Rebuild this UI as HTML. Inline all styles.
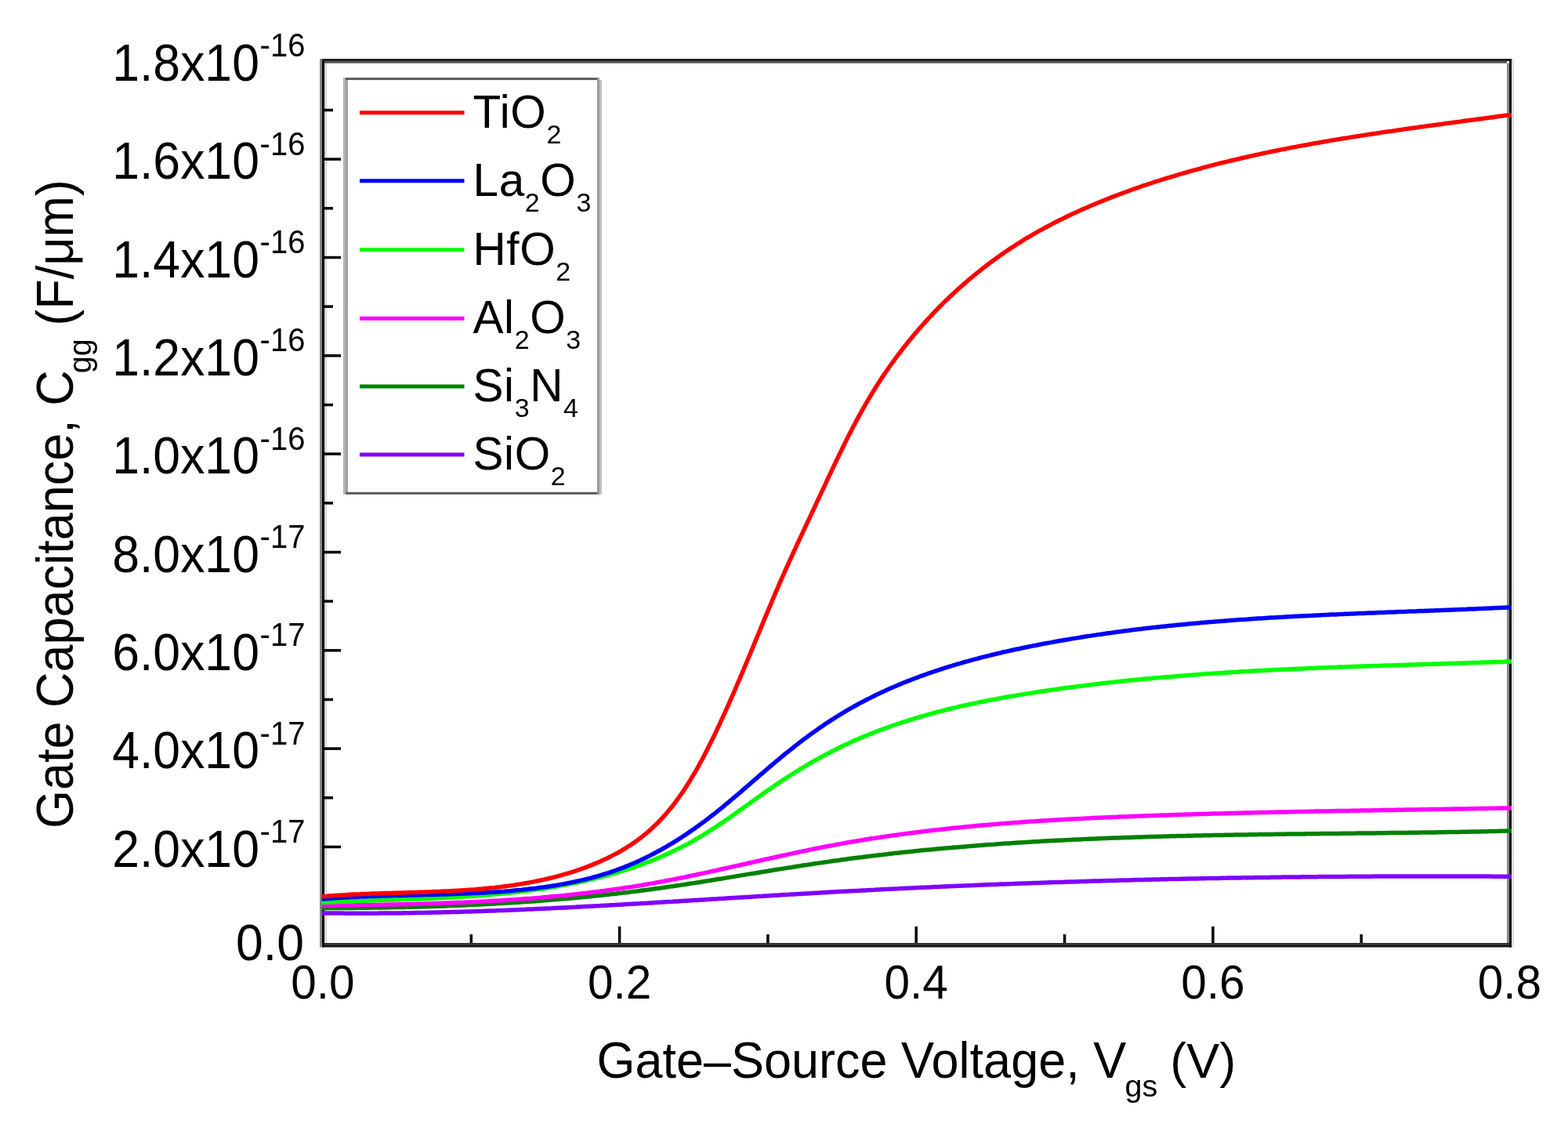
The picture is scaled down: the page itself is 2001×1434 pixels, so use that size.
<!DOCTYPE html>
<html><head><meta charset="utf-8"><title>Gate Capacitance vs Gate-Source Voltage</title>
<style>
html,body{margin:0;padding:0;background:#fff;}
body{width:2001px;height:1434px;overflow:hidden;}
svg{display:block;}
text{font-family:"Liberation Sans",Arial,sans-serif;fill:#000;}
.yl{font-size:62.5px;}
.ys{font-size:40px;}
.xl{font-size:58.5px;}
.xt{font-size:63px;}
.xs{font-size:39.5px;}
.lg{font-size:58.5px;letter-spacing:0.6px;}
.lgs{font-size:34px;}
</style></head><body>
<svg width="2001" height="1434" viewBox="0 0 2001 1434">
<rect x="0" y="0" width="2001" height="1434" fill="#fff"/>
<g fill="none">
<rect x="408" y="75" width="3" height="1133.5" fill="#888"/>
<rect x="411" y="75" width="3" height="1133.5" fill="#000"/>
<rect x="414" y="80.7" width="3" height="1122.3" fill="#d8d8d8"/>
<rect x="411" y="75" width="1521" height="3" fill="#222"/>
<rect x="414" y="78" width="1509" height="2.7" fill="#555"/>
<rect x="1923" y="80.7" width="3" height="1122.3" fill="#888"/>
<rect x="1926" y="75" width="3" height="1133.5" fill="#111"/>
<rect x="1929" y="75" width="3" height="1133.5" fill="#ddd"/>
<rect x="414" y="1203" width="1512" height="2.2" fill="#333"/>
<rect x="411" y="1205.2" width="1518" height="3.3" fill="#111"/>
</g>
<g stroke="#000" stroke-width="3.5">
<line x1="601.3" y1="1203" x2="601.3" y2="1192.0"/>
<line x1="790.6" y1="1203" x2="790.6" y2="1182.0"/>
<line x1="979.9" y1="1203" x2="979.9" y2="1192.0"/>
<line x1="1169.2" y1="1203" x2="1169.2" y2="1182.0"/>
<line x1="1358.6" y1="1203" x2="1358.6" y2="1192.0"/>
<line x1="1547.9" y1="1203" x2="1547.9" y2="1182.0"/>
<line x1="1737.2" y1="1203" x2="1737.2" y2="1192.0"/>
<line x1="414" y1="1143.1" x2="425.0" y2="1143.1"/>
<line x1="414" y1="1080.5" x2="435.0" y2="1080.5"/>
<line x1="414" y1="1017.8" x2="425.0" y2="1017.8"/>
<line x1="414" y1="955.1" x2="435.0" y2="955.1"/>
<line x1="414" y1="892.5" x2="425.0" y2="892.5"/>
<line x1="414" y1="829.8" x2="435.0" y2="829.8"/>
<line x1="414" y1="767.1" x2="425.0" y2="767.1"/>
<line x1="414" y1="704.5" x2="435.0" y2="704.5"/>
<line x1="414" y1="641.8" x2="425.0" y2="641.8"/>
<line x1="414" y1="579.1" x2="435.0" y2="579.1"/>
<line x1="414" y1="516.5" x2="425.0" y2="516.5"/>
<line x1="414" y1="453.8" x2="435.0" y2="453.8"/>
<line x1="414" y1="391.1" x2="425.0" y2="391.1"/>
<line x1="414" y1="328.5" x2="435.0" y2="328.5"/>
<line x1="414" y1="265.8" x2="425.0" y2="265.8"/>
<line x1="414" y1="203.1" x2="435.0" y2="203.1"/>
<line x1="414" y1="140.5" x2="425.0" y2="140.5"/>
</g>
<g fill="none" stroke-width="5.5" stroke-linejoin="round" stroke-linecap="butt">
<path d="M410.5 1164.9L415.0 1164.9L418.1 1165.0L421.1 1165.0L424.1 1165.0L427.2 1165.1L430.2 1165.1L433.3 1165.1L436.3 1165.1L439.3 1165.2L442.4 1165.2L445.4 1165.2L448.4 1165.2L451.5 1165.2L454.5 1165.2L457.6 1165.2L460.6 1165.2L463.6 1165.2L466.7 1165.2L469.7 1165.2L472.8 1165.2L475.8 1165.2L478.8 1165.2L481.9 1165.2L484.9 1165.1L488.0 1165.1L491.0 1165.1L494.0 1165.1L497.1 1165.0L500.1 1165.0L503.1 1165.0L506.2 1165.0L509.2 1164.9L512.3 1164.9L515.3 1164.8L518.3 1164.8L521.4 1164.8L524.4 1164.7L527.4 1164.7L530.5 1164.6L533.5 1164.6L536.5 1164.5L539.6 1164.4L542.6 1164.4L545.7 1164.3L548.7 1164.3L551.7 1164.2L554.8 1164.1L557.8 1164.1L560.8 1164.0L563.9 1163.9L566.9 1163.8L569.9 1163.8L573.0 1163.7L576.0 1163.6L579.0 1163.5L582.1 1163.4L585.1 1163.4L588.1 1163.3L591.2 1163.2L594.2 1163.1L597.2 1163.0L600.3 1162.9L603.3 1162.8L606.4 1162.7L609.4 1162.6L612.4 1162.5L615.5 1162.4L618.5 1162.3L621.5 1162.2L624.6 1162.1L627.6 1162.0L630.6 1161.9L633.7 1161.7L636.7 1161.6L639.7 1161.5L642.8 1161.4L645.8 1161.3L648.8 1161.2L651.9 1161.0L654.9 1160.9L657.9 1160.8L661.0 1160.7L664.0 1160.5L667.0 1160.4L670.1 1160.3L673.1 1160.1L676.1 1160.0L679.2 1159.9L682.2 1159.7L685.2 1159.6L688.3 1159.5L691.3 1159.3L694.3 1159.2L697.3 1159.0L700.4 1158.9L703.4 1158.8L706.4 1158.6L709.5 1158.5L712.5 1158.3L715.5 1158.2L718.6 1158.0L721.6 1157.9L724.6 1157.7L727.7 1157.6L730.7 1157.4L733.7 1157.3L736.8 1157.1L739.8 1157.0L742.8 1156.8L745.9 1156.6L748.9 1156.5L751.9 1156.3L754.9 1156.2L758.0 1156.0L761.0 1155.8L764.0 1155.7L767.1 1155.5L770.1 1155.3L773.1 1155.2L776.2 1155.0L779.2 1154.8L782.2 1154.7L785.3 1154.5L788.3 1154.3L791.3 1154.2L794.4 1154.0L797.4 1153.8L800.4 1153.6L803.4 1153.5L806.5 1153.3L809.5 1153.1L812.5 1152.9L815.6 1152.8L818.6 1152.6L821.6 1152.4L824.7 1152.2L827.7 1152.1L830.7 1151.9L833.8 1151.7L836.8 1151.5L839.8 1151.3L842.8 1151.2L845.9 1151.0L848.9 1150.8L851.9 1150.6L855.0 1150.4L858.0 1150.3L861.0 1150.1L864.1 1149.9L867.1 1149.7L870.1 1149.5L873.1 1149.3L876.2 1149.2L879.2 1149.0L882.2 1148.8L885.3 1148.6L888.3 1148.4L891.3 1148.2L894.4 1148.1L897.4 1147.9L900.4 1147.7L903.4 1147.5L906.5 1147.3L909.5 1147.1L912.5 1146.9L915.6 1146.8L918.6 1146.6L921.6 1146.4L924.7 1146.2L927.7 1146.0L930.7 1145.8L933.8 1145.6L936.8 1145.5L939.8 1145.3L942.8 1145.1L945.9 1144.9L948.9 1144.7L951.9 1144.5L955.0 1144.4L958.0 1144.2L961.0 1144.0L964.1 1143.8L967.1 1143.6L970.1 1143.4L973.1 1143.3L976.2 1143.1L979.2 1142.9L982.2 1142.7L985.3 1142.5L988.3 1142.3L991.3 1142.2L994.4 1142.0L997.4 1141.8L1000.4 1141.6L1003.5 1141.4L1006.5 1141.3L1009.5 1141.1L1012.5 1140.9L1015.6 1140.7L1018.6 1140.6L1021.6 1140.4L1024.7 1140.2L1027.7 1140.0L1030.7 1139.9L1033.8 1139.7L1036.8 1139.5L1039.8 1139.3L1042.9 1139.2L1045.9 1139.0L1048.9 1138.8L1051.9 1138.7L1055.0 1138.5L1058.0 1138.3L1061.0 1138.1L1064.1 1138.0L1067.1 1137.8L1070.1 1137.6L1073.2 1137.5L1076.2 1137.3L1079.2 1137.2L1082.3 1137.0L1085.3 1136.8L1088.3 1136.7L1091.4 1136.5L1094.4 1136.4L1097.4 1136.2L1100.4 1136.0L1103.5 1135.9L1106.5 1135.7L1109.5 1135.6L1112.6 1135.4L1115.6 1135.3L1118.6 1135.1L1121.7 1135.0L1124.7 1134.8L1127.7 1134.6L1130.8 1134.5L1133.8 1134.3L1136.8 1134.2L1139.9 1134.0L1142.9 1133.9L1145.9 1133.8L1149.0 1133.6L1152.0 1133.5L1155.0 1133.3L1158.1 1133.2L1161.1 1133.0L1164.1 1132.9L1167.1 1132.7L1170.2 1132.6L1173.2 1132.5L1176.2 1132.3L1179.3 1132.2L1182.3 1132.1L1185.3 1131.9L1188.4 1131.8L1191.4 1131.6L1194.4 1131.5L1197.5 1131.4L1200.5 1131.2L1203.5 1131.1L1206.6 1131.0L1209.6 1130.8L1212.6 1130.7L1215.7 1130.6L1218.7 1130.4L1221.7 1130.3L1224.8 1130.2L1227.8 1130.1L1230.8 1129.9L1233.9 1129.8L1236.9 1129.7L1239.9 1129.6L1243.0 1129.4L1246.0 1129.3L1249.0 1129.2L1252.1 1129.1L1255.1 1129.0L1258.1 1128.8L1261.2 1128.7L1264.2 1128.6L1267.2 1128.5L1270.3 1128.4L1273.3 1128.2L1276.3 1128.1L1279.4 1128.0L1282.4 1127.9L1285.4 1127.8L1288.5 1127.7L1291.5 1127.6L1294.5 1127.4L1297.6 1127.3L1300.6 1127.2L1303.6 1127.1L1306.7 1127.0L1309.7 1126.9L1312.7 1126.8L1315.8 1126.7L1318.8 1126.6L1321.8 1126.5L1324.9 1126.4L1327.9 1126.3L1330.9 1126.2L1334.0 1126.1L1337.0 1126.0L1340.0 1125.8L1343.1 1125.7L1346.1 1125.6L1349.1 1125.5L1352.2 1125.4L1355.2 1125.4L1358.3 1125.3L1361.3 1125.2L1364.3 1125.1L1367.4 1125.0L1370.4 1124.9L1373.4 1124.8L1376.5 1124.7L1379.5 1124.6L1382.5 1124.5L1385.6 1124.4L1388.6 1124.3L1391.6 1124.2L1394.7 1124.1L1397.7 1124.1L1400.7 1124.0L1403.8 1123.9L1406.8 1123.8L1409.8 1123.7L1412.9 1123.6L1415.9 1123.5L1418.9 1123.5L1422.0 1123.4L1425.0 1123.3L1428.0 1123.2L1431.1 1123.1L1434.1 1123.0L1437.2 1123.0L1440.2 1122.9L1443.2 1122.8L1446.3 1122.7L1449.3 1122.6L1452.3 1122.6L1455.4 1122.5L1458.4 1122.4L1461.4 1122.3L1464.5 1122.3L1467.5 1122.2L1470.5 1122.1L1473.6 1122.1L1476.6 1122.0L1479.6 1121.9L1482.7 1121.8L1485.7 1121.8L1488.8 1121.7L1491.8 1121.6L1494.8 1121.6L1497.9 1121.5L1500.9 1121.4L1503.9 1121.4L1507.0 1121.3L1510.0 1121.2L1513.0 1121.2L1516.1 1121.1L1519.1 1121.1L1522.1 1121.0L1525.2 1120.9L1528.2 1120.9L1531.2 1120.8L1534.3 1120.8L1537.3 1120.7L1540.4 1120.6L1543.4 1120.6L1546.4 1120.5L1549.5 1120.5L1552.5 1120.4L1555.5 1120.4L1558.6 1120.3L1561.6 1120.3L1564.6 1120.2L1567.7 1120.1L1570.7 1120.1L1573.8 1120.0L1576.8 1120.0L1579.8 1119.9L1582.9 1119.9L1585.9 1119.8L1588.9 1119.8L1592.0 1119.8L1595.0 1119.7L1598.0 1119.7L1601.1 1119.6L1604.1 1119.6L1607.1 1119.5L1610.2 1119.5L1613.2 1119.4L1616.3 1119.4L1619.3 1119.4L1622.3 1119.3L1625.4 1119.3L1628.4 1119.2L1631.4 1119.2L1634.5 1119.2L1637.5 1119.1L1640.5 1119.1L1643.6 1119.1L1646.6 1119.0L1649.7 1119.0L1652.7 1118.9L1655.7 1118.9L1658.8 1118.9L1661.8 1118.8L1664.8 1118.8L1667.9 1118.8L1670.9 1118.8L1673.9 1118.7L1677.0 1118.7L1680.0 1118.7L1683.1 1118.6L1686.1 1118.6L1689.1 1118.6L1692.2 1118.6L1695.2 1118.5L1698.2 1118.5L1701.3 1118.5L1704.3 1118.5L1707.4 1118.4L1710.4 1118.4L1713.4 1118.4L1716.5 1118.4L1719.5 1118.3L1722.5 1118.3L1725.6 1118.3L1728.6 1118.3L1731.6 1118.3L1734.7 1118.2L1737.7 1118.2L1740.8 1118.2L1743.8 1118.2L1746.8 1118.2L1749.9 1118.2L1752.9 1118.1L1755.9 1118.1L1759.0 1118.1L1762.0 1118.1L1765.1 1118.1L1768.1 1118.1L1771.1 1118.1L1774.2 1118.1L1777.2 1118.1L1780.2 1118.0L1783.3 1118.0L1786.3 1118.0L1789.4 1118.0L1792.4 1118.0L1795.4 1118.0L1798.5 1118.0L1801.5 1118.0L1804.5 1118.0L1807.6 1118.0L1810.6 1118.0L1813.7 1118.0L1816.7 1118.0L1819.7 1118.0L1822.8 1118.0L1825.8 1118.0L1828.8 1118.0L1831.9 1118.0L1834.9 1118.0L1837.9 1118.0L1841.0 1118.0L1844.0 1118.0L1847.1 1118.0L1850.1 1118.0L1853.1 1118.0L1856.2 1118.0L1859.2 1118.0L1862.2 1118.0L1865.3 1118.0L1868.3 1118.0L1871.4 1118.0L1874.4 1118.0L1877.4 1118.1L1880.5 1118.1L1883.5 1118.1L1886.5 1118.1L1889.6 1118.1L1892.6 1118.1L1895.7 1118.1L1898.7 1118.1L1901.7 1118.1L1904.8 1118.2L1907.8 1118.2L1910.9 1118.2L1913.9 1118.2L1916.9 1118.2L1920.0 1118.2L1923.0 1118.3L1929.0 1118.3" stroke="#8000ff"/>
<path d="M410.5 1158.6L415.0 1158.6L418.0 1158.6L421.1 1158.6L424.1 1158.5L427.2 1158.5L430.2 1158.5L433.3 1158.5L436.3 1158.5L439.4 1158.5L442.4 1158.4L445.5 1158.4L448.5 1158.4L451.6 1158.4L454.6 1158.3L457.7 1158.3L460.7 1158.3L463.8 1158.2L466.8 1158.2L469.8 1158.2L472.9 1158.1L475.9 1158.1L479.0 1158.0L482.0 1158.0L485.1 1158.0L488.1 1157.9L491.2 1157.9L494.2 1157.8L497.3 1157.7L500.3 1157.7L503.4 1157.6L506.4 1157.6L509.5 1157.5L512.5 1157.4L515.6 1157.4L518.6 1157.3L521.7 1157.2L524.7 1157.2L527.8 1157.1L530.8 1157.0L533.8 1156.9L536.9 1156.8L539.9 1156.8L543.0 1156.7L546.0 1156.6L549.1 1156.5L552.1 1156.4L555.2 1156.3L558.2 1156.2L561.3 1156.1L564.3 1156.0L567.3 1155.9L570.4 1155.8L573.4 1155.6L576.5 1155.5L579.5 1155.4L582.6 1155.3L585.6 1155.2L588.7 1155.0L591.7 1154.9L594.7 1154.8L597.8 1154.6L600.8 1154.5L603.9 1154.4L606.9 1154.2L610.0 1154.1L613.0 1153.9L616.0 1153.8L619.1 1153.6L622.1 1153.5L625.2 1153.3L628.2 1153.2L631.2 1153.0L634.3 1152.8L637.3 1152.6L640.4 1152.5L643.4 1152.3L646.4 1152.1L649.5 1151.9L652.5 1151.7L655.6 1151.6L658.6 1151.4L661.6 1151.2L664.7 1151.0L667.7 1150.8L670.7 1150.6L673.8 1150.4L676.8 1150.1L679.9 1149.9L682.9 1149.7L685.9 1149.5L689.0 1149.3L692.0 1149.0L695.0 1148.8L698.1 1148.6L701.1 1148.3L704.1 1148.1L707.2 1147.8L710.2 1147.6L713.2 1147.3L716.3 1147.1L719.3 1146.8L722.3 1146.6L725.4 1146.3L728.4 1146.0L731.4 1145.7L734.4 1145.5L737.5 1145.2L740.5 1144.9L743.5 1144.6L746.6 1144.3L749.6 1144.0L752.6 1143.7L755.6 1143.4L758.7 1143.1L761.7 1142.8L764.7 1142.5L767.7 1142.2L770.8 1141.8L773.8 1141.5L776.8 1141.2L779.8 1140.8L782.9 1140.5L785.9 1140.2L788.9 1139.8L791.9 1139.5L795.0 1139.1L798.0 1138.7L801.0 1138.4L804.0 1138.0L807.0 1137.6L810.1 1137.3L813.1 1136.9L816.1 1136.5L819.1 1136.1L822.1 1135.7L825.1 1135.3L828.2 1134.9L831.2 1134.5L834.2 1134.1L837.2 1133.7L840.2 1133.3L843.2 1132.9L846.2 1132.4L849.3 1132.0L852.3 1131.6L855.3 1131.1L858.3 1130.7L861.3 1130.3L864.3 1129.8L867.3 1129.4L870.3 1128.9L873.4 1128.4L876.4 1128.0L879.4 1127.5L882.4 1127.1L885.4 1126.6L888.4 1126.1L891.4 1125.7L894.4 1125.2L897.4 1124.7L900.4 1124.2L903.4 1123.8L906.4 1123.3L909.5 1122.8L912.5 1122.3L915.5 1121.8L918.5 1121.3L921.5 1120.9L924.5 1120.4L927.5 1119.9L930.5 1119.4L933.5 1118.9L936.5 1118.4L939.5 1117.9L942.5 1117.4L945.5 1116.9L948.5 1116.4L951.5 1115.9L954.5 1115.4L957.5 1114.9L960.6 1114.4L963.6 1114.0L966.6 1113.5L969.6 1113.0L972.6 1112.5L975.6 1112.0L978.6 1111.5L981.6 1111.0L984.6 1110.5L987.6 1110.0L990.6 1109.5L993.6 1109.1L996.6 1108.6L999.6 1108.1L1002.6 1107.6L1005.6 1107.1L1008.7 1106.7L1011.7 1106.2L1014.7 1105.7L1017.7 1105.2L1020.7 1104.8L1023.7 1104.3L1026.7 1103.8L1029.7 1103.4L1032.7 1102.9L1035.7 1102.5L1038.7 1102.0L1041.7 1101.6L1044.8 1101.1L1047.8 1100.7L1050.8 1100.2L1053.8 1099.8L1056.8 1099.4L1059.8 1098.9L1062.8 1098.5L1065.8 1098.1L1068.9 1097.7L1071.9 1097.2L1074.9 1096.8L1077.9 1096.4L1080.9 1096.0L1083.9 1095.6L1086.9 1095.2L1090.0 1094.8L1093.0 1094.4L1096.0 1094.0L1099.0 1093.7L1102.0 1093.3L1105.0 1092.9L1108.1 1092.5L1111.1 1092.2L1114.1 1091.8L1117.1 1091.4L1120.1 1091.1L1123.2 1090.7L1126.2 1090.4L1129.2 1090.0L1132.2 1089.7L1135.2 1089.3L1138.3 1089.0L1141.3 1088.6L1144.3 1088.3L1147.3 1088.0L1150.4 1087.6L1153.4 1087.3L1156.4 1087.0L1159.4 1086.7L1162.5 1086.4L1165.5 1086.1L1168.5 1085.7L1171.5 1085.4L1174.6 1085.1L1177.6 1084.8L1180.6 1084.5L1183.6 1084.2L1186.7 1084.0L1189.7 1083.7L1192.7 1083.4L1195.7 1083.1L1198.8 1082.8L1201.8 1082.5L1204.8 1082.3L1207.9 1082.0L1210.9 1081.7L1213.9 1081.5L1216.9 1081.2L1220.0 1080.9L1223.0 1080.7L1226.0 1080.4L1229.1 1080.2L1232.1 1079.9L1235.1 1079.7L1238.2 1079.4L1241.2 1079.2L1244.2 1079.0L1247.3 1078.7L1250.3 1078.5L1253.3 1078.3L1256.4 1078.0L1259.4 1077.8L1262.4 1077.6L1265.5 1077.4L1268.5 1077.2L1271.5 1076.9L1274.6 1076.7L1277.6 1076.5L1280.6 1076.3L1283.7 1076.1L1286.7 1075.9L1289.7 1075.7L1292.8 1075.5L1295.8 1075.3L1298.9 1075.1L1301.9 1074.9L1304.9 1074.7L1308.0 1074.6L1311.0 1074.4L1314.0 1074.2L1317.1 1074.0L1320.1 1073.8L1323.2 1073.7L1326.2 1073.5L1329.2 1073.3L1332.3 1073.1L1335.3 1073.0L1338.4 1072.8L1341.4 1072.6L1344.4 1072.5L1347.5 1072.3L1350.5 1072.2L1353.6 1072.0L1356.6 1071.9L1359.6 1071.7L1362.7 1071.6L1365.7 1071.4L1368.8 1071.3L1371.8 1071.1L1374.8 1071.0L1377.9 1070.9L1380.9 1070.7L1384.0 1070.6L1387.0 1070.5L1390.1 1070.3L1393.1 1070.2L1396.1 1070.1L1399.2 1069.9L1402.2 1069.8L1405.3 1069.7L1408.3 1069.6L1411.4 1069.5L1414.4 1069.3L1417.4 1069.2L1420.5 1069.1L1423.5 1069.0L1426.6 1068.9L1429.6 1068.8L1432.7 1068.7L1435.7 1068.6L1438.8 1068.5L1441.8 1068.4L1444.8 1068.3L1447.9 1068.2L1450.9 1068.1L1454.0 1068.0L1457.0 1067.9L1460.1 1067.8L1463.1 1067.7L1466.2 1067.6L1469.2 1067.5L1472.3 1067.4L1475.3 1067.3L1478.3 1067.2L1481.4 1067.2L1484.4 1067.1L1487.5 1067.0L1490.5 1066.9L1493.6 1066.8L1496.6 1066.8L1499.7 1066.7L1502.7 1066.6L1505.8 1066.5L1508.8 1066.5L1511.9 1066.4L1514.9 1066.3L1518.0 1066.2L1521.0 1066.2L1524.0 1066.1L1527.1 1066.0L1530.1 1066.0L1533.2 1065.9L1536.2 1065.8L1539.3 1065.8L1542.3 1065.7L1545.4 1065.7L1548.4 1065.6L1551.5 1065.5L1554.5 1065.5L1557.6 1065.4L1560.6 1065.4L1563.7 1065.3L1566.7 1065.3L1569.8 1065.2L1572.8 1065.2L1575.9 1065.1L1578.9 1065.1L1582.0 1065.0L1585.0 1065.0L1588.0 1064.9L1591.1 1064.9L1594.1 1064.8L1597.2 1064.8L1600.2 1064.7L1603.3 1064.7L1606.3 1064.6L1609.4 1064.6L1612.4 1064.5L1615.5 1064.5L1618.5 1064.5L1621.6 1064.4L1624.6 1064.4L1627.7 1064.3L1630.7 1064.3L1633.8 1064.3L1636.8 1064.2L1639.9 1064.2L1642.9 1064.1L1646.0 1064.1L1649.0 1064.1L1652.1 1064.0L1655.1 1064.0L1658.1 1064.0L1661.2 1063.9L1664.2 1063.9L1667.3 1063.8L1670.3 1063.8L1673.4 1063.8L1676.4 1063.7L1679.5 1063.7L1682.5 1063.7L1685.6 1063.6L1688.6 1063.6L1691.7 1063.6L1694.7 1063.5L1697.8 1063.5L1700.8 1063.5L1703.9 1063.4L1706.9 1063.4L1709.9 1063.4L1713.0 1063.3L1716.0 1063.3L1719.1 1063.3L1722.1 1063.2L1725.2 1063.2L1728.2 1063.2L1731.3 1063.1L1734.3 1063.1L1737.4 1063.1L1740.4 1063.0L1743.5 1063.0L1746.5 1063.0L1749.5 1062.9L1752.6 1062.9L1755.6 1062.9L1758.7 1062.8L1761.7 1062.8L1764.8 1062.7L1767.8 1062.7L1770.9 1062.7L1773.9 1062.6L1776.9 1062.6L1780.0 1062.6L1783.0 1062.5L1786.1 1062.5L1789.1 1062.5L1792.2 1062.4L1795.2 1062.4L1798.3 1062.3L1801.3 1062.3L1804.3 1062.3L1807.4 1062.2L1810.4 1062.2L1813.5 1062.1L1816.5 1062.1L1819.5 1062.0L1822.6 1062.0L1825.6 1062.0L1828.7 1061.9L1831.7 1061.9L1834.8 1061.8L1837.8 1061.8L1840.8 1061.7L1843.9 1061.7L1846.9 1061.6L1850.0 1061.6L1853.0 1061.5L1856.0 1061.5L1859.1 1061.4L1862.1 1061.4L1865.2 1061.3L1868.2 1061.3L1871.2 1061.2L1874.3 1061.2L1877.3 1061.1L1880.4 1061.0L1883.4 1061.0L1886.4 1060.9L1889.5 1060.9L1892.5 1060.8L1895.5 1060.7L1898.6 1060.7L1901.6 1060.6L1904.7 1060.5L1907.7 1060.5L1910.7 1060.4L1913.8 1060.3L1916.8 1060.3L1919.8 1060.2L1922.9 1060.1L1929.0 1060.0" stroke="#008000"/>
<path d="M410.5 1155.3L414.9 1155.3L418.0 1155.3L421.1 1155.2L424.1 1155.2L427.2 1155.1L430.2 1155.1L433.3 1155.1L436.3 1155.0L439.4 1155.0L442.4 1155.0L445.5 1154.9L448.6 1154.9L451.6 1154.8L454.7 1154.8L457.7 1154.8L460.8 1154.7L463.8 1154.7L466.9 1154.6L470.0 1154.6L473.0 1154.5L476.1 1154.5L479.1 1154.4L482.2 1154.4L485.2 1154.3L488.3 1154.3L491.4 1154.2L494.4 1154.2L497.5 1154.1L500.5 1154.0L503.6 1154.0L506.6 1153.9L509.7 1153.8L512.8 1153.8L515.8 1153.7L518.9 1153.6L521.9 1153.6L525.0 1153.5L528.0 1153.4L531.1 1153.3L534.2 1153.2L537.2 1153.2L540.3 1153.1L543.3 1153.0L546.4 1152.9L549.4 1152.8L552.5 1152.7L555.5 1152.6L558.6 1152.5L561.7 1152.4L564.7 1152.3L567.8 1152.2L570.8 1152.1L573.9 1152.0L576.9 1151.9L580.0 1151.7L583.0 1151.6L586.1 1151.5L589.1 1151.4L592.2 1151.2L595.2 1151.1L598.3 1151.0L601.4 1150.8L604.4 1150.7L607.5 1150.5L610.5 1150.4L613.6 1150.2L616.6 1150.1L619.7 1149.9L622.7 1149.8L625.8 1149.6L628.8 1149.4L631.9 1149.2L634.9 1149.1L637.9 1148.9L641.0 1148.7L644.0 1148.5L647.1 1148.3L650.1 1148.1L653.2 1147.9L656.2 1147.7L659.3 1147.5L662.3 1147.3L665.4 1147.1L668.4 1146.8L671.4 1146.6L674.5 1146.4L677.5 1146.2L680.6 1145.9L683.6 1145.7L686.6 1145.4L689.7 1145.2L692.7 1144.9L695.8 1144.6L698.8 1144.4L701.8 1144.1L704.9 1143.8L707.9 1143.5L710.9 1143.2L714.0 1143.0L717.0 1142.7L720.0 1142.4L723.1 1142.0L726.1 1141.7L729.1 1141.4L732.2 1141.1L735.2 1140.8L738.2 1140.4L741.2 1140.1L744.3 1139.7L747.3 1139.4L750.3 1139.0L753.3 1138.7L756.4 1138.3L759.4 1137.9L762.4 1137.5L765.4 1137.2L768.4 1136.8L771.5 1136.4L774.5 1136.0L777.5 1135.6L780.5 1135.1L783.5 1134.7L786.5 1134.3L789.6 1133.9L792.6 1133.4L795.6 1133.0L798.6 1132.5L801.6 1132.1L804.6 1131.6L807.6 1131.1L810.6 1130.6L813.6 1130.2L816.6 1129.7L819.7 1129.2L822.7 1128.7L825.7 1128.1L828.7 1127.6L831.7 1127.1L834.7 1126.6L837.7 1126.0L840.7 1125.5L843.7 1124.9L846.6 1124.4L849.6 1123.8L852.6 1123.2L855.6 1122.6L858.6 1122.1L861.6 1121.5L864.6 1120.9L867.6 1120.3L870.6 1119.7L873.6 1119.1L876.6 1118.5L879.6 1117.8L882.5 1117.2L885.5 1116.6L888.5 1116.0L891.5 1115.3L894.5 1114.7L897.5 1114.1L900.4 1113.4L903.4 1112.8L906.4 1112.1L909.4 1111.5L912.4 1110.8L915.4 1110.2L918.3 1109.5L921.3 1108.8L924.3 1108.2L927.3 1107.5L930.3 1106.9L933.2 1106.2L936.2 1105.5L939.2 1104.9L942.2 1104.2L945.2 1103.5L948.1 1102.8L951.1 1102.2L954.1 1101.5L957.1 1100.8L960.1 1100.2L963.0 1099.5L966.0 1098.8L969.0 1098.1L972.0 1097.5L975.0 1096.8L977.9 1096.1L980.9 1095.5L983.9 1094.8L986.9 1094.2L989.9 1093.5L992.9 1092.8L995.8 1092.2L998.8 1091.5L1001.8 1090.9L1004.8 1090.2L1007.8 1089.6L1010.8 1088.9L1013.7 1088.3L1016.7 1087.7L1019.7 1087.0L1022.7 1086.4L1025.7 1085.8L1028.7 1085.2L1031.7 1084.5L1034.6 1083.9L1037.6 1083.3L1040.6 1082.7L1043.6 1082.1L1046.6 1081.5L1049.6 1080.9L1052.6 1080.3L1055.6 1079.8L1058.6 1079.2L1061.6 1078.6L1064.6 1078.1L1067.6 1077.5L1070.6 1077.0L1073.6 1076.4L1076.6 1075.9L1079.6 1075.3L1082.6 1074.8L1085.6 1074.3L1088.6 1073.8L1091.6 1073.3L1094.6 1072.8L1097.6 1072.3L1100.6 1071.8L1103.6 1071.3L1106.6 1070.8L1109.6 1070.3L1112.6 1069.8L1115.7 1069.4L1118.7 1068.9L1121.7 1068.5L1124.7 1068.0L1127.7 1067.6L1130.7 1067.1L1133.7 1066.7L1136.8 1066.2L1139.8 1065.8L1142.8 1065.4L1145.8 1065.0L1148.8 1064.6L1151.9 1064.2L1154.9 1063.7L1157.9 1063.3L1160.9 1063.0L1163.9 1062.6L1167.0 1062.2L1170.0 1061.8L1173.0 1061.4L1176.0 1061.0L1179.1 1060.7L1182.1 1060.3L1185.1 1060.0L1188.1 1059.6L1191.2 1059.2L1194.2 1058.9L1197.2 1058.6L1200.3 1058.2L1203.3 1057.9L1206.3 1057.6L1209.3 1057.2L1212.4 1056.9L1215.4 1056.6L1218.4 1056.3L1221.5 1056.0L1224.5 1055.7L1227.5 1055.4L1230.6 1055.1L1233.6 1054.8L1236.7 1054.5L1239.7 1054.2L1242.7 1053.9L1245.8 1053.6L1248.8 1053.3L1251.8 1053.1L1254.9 1052.8L1257.9 1052.5L1261.0 1052.3L1264.0 1052.0L1267.0 1051.8L1270.1 1051.5L1273.1 1051.3L1276.2 1051.0L1279.2 1050.8L1282.2 1050.5L1285.3 1050.3L1288.3 1050.1L1291.4 1049.8L1294.4 1049.6L1297.5 1049.4L1300.5 1049.2L1303.6 1048.9L1306.6 1048.7L1309.6 1048.5L1312.7 1048.3L1315.7 1048.1L1318.8 1047.9L1321.8 1047.7L1324.9 1047.5L1327.9 1047.3L1331.0 1047.1L1334.0 1046.9L1337.1 1046.7L1340.1 1046.6L1343.2 1046.4L1346.2 1046.2L1349.3 1046.0L1352.3 1045.8L1355.4 1045.7L1358.4 1045.5L1361.5 1045.3L1364.5 1045.2L1367.6 1045.0L1370.6 1044.8L1373.7 1044.7L1376.7 1044.5L1379.8 1044.4L1382.8 1044.2L1385.9 1044.1L1388.9 1043.9L1392.0 1043.8L1395.0 1043.6L1398.1 1043.5L1401.1 1043.3L1404.2 1043.2L1407.2 1043.1L1410.3 1042.9L1413.3 1042.8L1416.4 1042.7L1419.4 1042.5L1422.5 1042.4L1425.5 1042.3L1428.6 1042.1L1431.7 1042.0L1434.7 1041.9L1437.8 1041.8L1440.8 1041.7L1443.9 1041.5L1446.9 1041.4L1450.0 1041.3L1453.0 1041.2L1456.1 1041.1L1459.1 1041.0L1462.2 1040.8L1465.2 1040.7L1468.3 1040.6L1471.3 1040.5L1474.4 1040.4L1477.4 1040.3L1480.5 1040.2L1483.5 1040.1L1486.6 1040.0L1489.7 1039.9L1492.7 1039.8L1495.8 1039.7L1498.8 1039.6L1501.9 1039.5L1504.9 1039.4L1508.0 1039.3L1511.0 1039.2L1514.1 1039.1L1517.1 1039.0L1520.2 1038.9L1523.2 1038.8L1526.3 1038.7L1529.3 1038.6L1532.4 1038.6L1535.4 1038.5L1538.5 1038.4L1541.5 1038.3L1544.6 1038.2L1547.6 1038.1L1550.7 1038.0L1553.7 1038.0L1556.8 1037.9L1559.8 1037.8L1562.9 1037.7L1566.0 1037.6L1569.0 1037.6L1572.1 1037.5L1575.1 1037.4L1578.2 1037.3L1581.2 1037.2L1584.3 1037.2L1587.3 1037.1L1590.4 1037.0L1593.4 1037.0L1596.5 1036.9L1599.5 1036.8L1602.6 1036.7L1605.6 1036.7L1608.7 1036.6L1611.7 1036.5L1614.8 1036.5L1617.8 1036.4L1620.9 1036.3L1623.9 1036.3L1627.0 1036.2L1630.0 1036.1L1633.1 1036.1L1636.1 1036.0L1639.2 1035.9L1642.2 1035.9L1645.3 1035.8L1648.3 1035.7L1651.4 1035.7L1654.4 1035.6L1657.5 1035.6L1660.5 1035.5L1663.6 1035.4L1666.6 1035.4L1669.7 1035.3L1672.7 1035.3L1675.8 1035.2L1678.9 1035.1L1681.9 1035.1L1685.0 1035.0L1688.0 1035.0L1691.1 1034.9L1694.1 1034.9L1697.2 1034.8L1700.2 1034.7L1703.3 1034.7L1706.3 1034.6L1709.4 1034.6L1712.4 1034.5L1715.5 1034.5L1718.5 1034.4L1721.6 1034.4L1724.6 1034.3L1727.7 1034.3L1730.7 1034.2L1733.8 1034.2L1736.8 1034.1L1739.9 1034.1L1742.9 1034.0L1746.0 1033.9L1749.0 1033.9L1752.1 1033.8L1755.1 1033.8L1758.2 1033.7L1761.2 1033.7L1764.3 1033.6L1767.3 1033.6L1770.4 1033.5L1773.4 1033.5L1776.5 1033.4L1779.5 1033.4L1782.6 1033.3L1785.6 1033.3L1788.7 1033.2L1791.7 1033.2L1794.8 1033.1L1797.8 1033.1L1800.9 1033.0L1803.9 1033.0L1807.0 1032.9L1810.0 1032.9L1813.1 1032.8L1816.1 1032.8L1819.2 1032.7L1822.2 1032.7L1825.3 1032.6L1828.3 1032.6L1831.4 1032.5L1834.5 1032.5L1837.5 1032.4L1840.6 1032.4L1843.6 1032.3L1846.7 1032.3L1849.7 1032.2L1852.8 1032.2L1855.8 1032.1L1858.9 1032.1L1861.9 1032.0L1865.0 1032.0L1868.0 1031.9L1871.1 1031.9L1874.1 1031.8L1877.2 1031.8L1880.2 1031.7L1883.3 1031.7L1886.3 1031.6L1889.4 1031.5L1892.4 1031.5L1895.5 1031.4L1898.5 1031.4L1901.6 1031.3L1904.6 1031.3L1907.7 1031.2L1910.7 1031.2L1913.8 1031.1L1916.8 1031.0L1919.9 1031.0L1922.9 1030.9L1929.0 1030.9" stroke="#ff00ff"/>
<path d="M410.5 1151.4L415.5 1151.3L418.5 1151.1L421.6 1151.0L424.6 1150.9L427.7 1150.7L430.7 1150.6L433.8 1150.5L436.9 1150.3L440.0 1150.2L443.0 1150.1L446.1 1150.0L449.2 1149.9L452.3 1149.7L455.4 1149.6L458.5 1149.5L461.6 1149.4L464.7 1149.3L467.9 1149.2L471.0 1149.1L474.1 1149.0L477.2 1148.9L480.4 1148.8L483.5 1148.7L486.6 1148.6L489.8 1148.5L492.9 1148.3L496.1 1148.2L499.2 1148.1L502.4 1148.0L505.5 1147.9L508.7 1147.8L511.8 1147.7L515.0 1147.6L518.2 1147.5L521.3 1147.4L524.5 1147.2L527.7 1147.1L530.9 1147.0L534.0 1146.9L537.2 1146.7L540.4 1146.6L543.6 1146.5L546.8 1146.3L549.9 1146.2L553.1 1146.0L556.3 1145.9L559.5 1145.7L562.7 1145.6L565.9 1145.4L569.1 1145.3L572.2 1145.1L575.4 1144.9L578.6 1144.8L581.8 1144.6L585.0 1144.4L588.2 1144.2L591.4 1144.0L594.6 1143.8L597.8 1143.6L601.0 1143.4L604.2 1143.1L607.3 1142.9L610.5 1142.7L613.7 1142.4L616.9 1142.2L620.1 1141.9L623.3 1141.7L626.5 1141.4L629.7 1141.1L632.8 1140.8L636.0 1140.5L639.2 1140.2L642.4 1139.9L645.6 1139.6L648.7 1139.3L651.9 1138.9L655.1 1138.6L658.2 1138.2L661.4 1137.9L664.6 1137.5L667.7 1137.1L670.9 1136.7L674.0 1136.3L677.2 1135.9L680.4 1135.5L683.5 1135.1L686.6 1134.6L689.8 1134.2L692.9 1133.7L696.1 1133.2L699.2 1132.7L702.3 1132.2L705.5 1131.7L708.6 1131.2L711.7 1130.7L714.8 1130.1L717.9 1129.6L721.0 1129.0L724.1 1128.4L727.2 1127.8L730.3 1127.2L733.4 1126.6L736.5 1126.0L739.6 1125.3L742.7 1124.7L745.7 1124.0L748.8 1123.3L751.8 1122.6L754.9 1121.9L758.0 1121.2L761.0 1120.4L764.0 1119.7L767.1 1118.9L770.1 1118.1L773.1 1117.3L776.1 1116.5L779.2 1115.6L782.2 1114.8L785.2 1113.9L788.1 1113.0L791.1 1112.1L794.1 1111.2L797.1 1110.3L800.1 1109.3L803.0 1108.4L806.0 1107.4L808.9 1106.4L811.9 1105.4L814.8 1104.3L817.7 1103.3L820.6 1102.2L823.5 1101.1L826.4 1100.0L829.3 1098.9L832.2 1097.8L835.1 1096.6L838.0 1095.4L840.8 1094.2L843.7 1093.0L846.5 1091.8L849.4 1090.5L852.2 1089.2L855.0 1087.9L857.8 1086.6L860.6 1085.3L863.4 1083.9L866.2 1082.5L869.0 1081.1L871.8 1079.7L874.5 1078.3L877.3 1076.8L880.0 1075.3L882.7 1073.8L885.5 1072.3L888.2 1070.7L890.9 1069.2L893.6 1067.6L896.3 1066.0L898.9 1064.3L901.6 1062.7L904.3 1061.0L906.9 1059.3L909.5 1057.6L912.2 1055.9L914.8 1054.1L917.4 1052.4L920.1 1050.6L922.7 1048.9L925.3 1047.1L927.9 1045.3L930.5 1043.5L933.1 1041.7L935.7 1039.8L938.3 1038.0L940.8 1036.2L943.4 1034.3L946.0 1032.5L948.6 1030.6L951.2 1028.8L953.8 1026.9L956.4 1025.1L958.9 1023.2L961.5 1021.4L964.1 1019.5L966.7 1017.7L969.3 1015.8L971.9 1014.0L974.5 1012.1L977.1 1010.3L979.7 1008.5L982.3 1006.7L984.9 1004.9L987.5 1003.1L990.1 1001.3L992.8 999.5L995.4 997.7L998.0 996.0L1000.7 994.2L1003.3 992.5L1006.0 990.8L1008.7 989.1L1011.3 987.4L1014.0 985.7L1016.7 984.0L1019.4 982.4L1022.1 980.7L1024.8 979.1L1027.5 977.5L1030.2 975.9L1032.9 974.3L1035.7 972.7L1038.4 971.2L1041.1 969.6L1043.9 968.1L1046.6 966.6L1049.4 965.1L1052.2 963.6L1054.9 962.1L1057.7 960.6L1060.5 959.2L1063.3 957.8L1066.1 956.3L1068.9 954.9L1071.7 953.6L1074.5 952.2L1077.4 950.8L1080.2 949.5L1083.1 948.2L1085.9 946.9L1088.8 945.6L1091.6 944.3L1094.5 943.1L1097.4 941.8L1100.3 940.6L1103.1 939.4L1106.0 938.2L1108.9 937.0L1111.8 935.9L1114.8 934.7L1117.7 933.6L1120.6 932.5L1123.5 931.3L1126.5 930.3L1129.4 929.2L1132.3 928.1L1135.3 927.1L1138.3 926.0L1141.2 925.0L1144.2 924.0L1147.2 923.0L1150.1 922.0L1153.1 921.0L1156.1 920.1L1159.1 919.1L1162.1 918.2L1165.1 917.3L1168.1 916.3L1171.1 915.4L1174.1 914.6L1177.1 913.7L1180.2 912.8L1183.2 912.0L1186.2 911.1L1189.3 910.3L1192.3 909.5L1195.3 908.7L1198.4 907.9L1201.4 907.1L1204.5 906.3L1207.6 905.5L1210.6 904.8L1213.7 904.0L1216.7 903.3L1219.8 902.6L1222.9 901.8L1226.0 901.1L1229.0 900.4L1232.1 899.7L1235.2 899.1L1238.3 898.4L1241.4 897.7L1244.5 897.1L1247.6 896.4L1250.7 895.8L1253.8 895.2L1256.9 894.5L1260.0 893.9L1263.1 893.3L1266.2 892.7L1269.3 892.1L1272.4 891.6L1275.5 891.0L1278.6 890.4L1281.7 889.8L1284.9 889.3L1288.0 888.7L1291.1 888.2L1294.2 887.7L1297.3 887.1L1300.5 886.6L1303.6 886.1L1306.7 885.6L1309.8 885.1L1313.0 884.6L1316.1 884.1L1319.2 883.6L1322.4 883.1L1325.5 882.7L1328.6 882.2L1331.7 881.7L1334.9 881.3L1338.0 880.8L1341.1 880.3L1344.3 879.9L1347.4 879.4L1350.5 879.0L1353.6 878.6L1356.8 878.1L1359.9 877.7L1363.0 877.3L1366.2 876.9L1369.3 876.5L1372.4 876.1L1375.6 875.6L1378.7 875.2L1381.8 874.9L1385.0 874.5L1388.1 874.1L1391.2 873.7L1394.4 873.3L1397.5 872.9L1400.6 872.6L1403.8 872.2L1406.9 871.8L1410.0 871.5L1413.2 871.1L1416.3 870.8L1419.4 870.4L1422.6 870.1L1425.7 869.7L1428.8 869.4L1432.0 869.1L1435.1 868.7L1438.2 868.4L1441.4 868.1L1444.5 867.8L1447.6 867.5L1450.8 867.2L1453.9 866.9L1457.0 866.6L1460.2 866.3L1463.3 866.0L1466.4 865.7L1469.6 865.4L1472.7 865.1L1475.9 864.8L1479.0 864.5L1482.1 864.3L1485.3 864.0L1488.4 863.7L1491.5 863.4L1494.7 863.2L1497.8 862.9L1501.0 862.7L1504.1 862.4L1507.2 862.2L1510.4 861.9L1513.5 861.7L1516.7 861.4L1519.8 861.2L1522.9 861.0L1526.1 860.7L1529.2 860.5L1532.4 860.3L1535.5 860.0L1538.6 859.8L1541.8 859.6L1544.9 859.4L1548.1 859.2L1551.2 859.0L1554.3 858.8L1557.5 858.6L1560.6 858.4L1563.8 858.2L1566.9 858.0L1570.0 857.8L1573.2 857.6L1576.3 857.4L1579.5 857.2L1582.6 857.0L1585.8 856.8L1588.9 856.6L1592.0 856.5L1595.2 856.3L1598.3 856.1L1601.5 855.9L1604.6 855.8L1607.8 855.6L1610.9 855.4L1614.0 855.3L1617.2 855.1L1620.3 854.9L1623.5 854.8L1626.6 854.6L1629.8 854.5L1632.9 854.3L1636.1 854.2L1639.2 854.0L1642.4 853.9L1645.5 853.7L1648.6 853.6L1651.8 853.4L1654.9 853.3L1658.1 853.2L1661.2 853.0L1664.4 852.9L1667.5 852.8L1670.7 852.6L1673.8 852.5L1677.0 852.4L1680.1 852.2L1683.3 852.1L1686.4 852.0L1689.6 851.9L1692.7 851.7L1695.9 851.6L1699.0 851.5L1702.1 851.4L1705.3 851.3L1708.4 851.1L1711.6 851.0L1714.7 850.9L1717.9 850.8L1721.0 850.7L1724.2 850.6L1727.3 850.5L1730.5 850.3L1733.6 850.2L1736.8 850.1L1739.9 850.0L1743.1 849.9L1746.2 849.8L1749.4 849.7L1752.5 849.6L1755.7 849.5L1758.8 849.4L1762.0 849.3L1765.2 849.2L1768.3 849.1L1771.5 849.0L1774.6 848.9L1777.8 848.8L1780.9 848.7L1784.1 848.6L1787.2 848.5L1790.4 848.4L1793.5 848.3L1796.7 848.2L1799.8 848.1L1803.0 848.0L1806.1 847.9L1809.3 847.8L1812.4 847.7L1815.6 847.6L1818.7 847.5L1821.9 847.4L1825.1 847.3L1828.2 847.2L1831.4 847.1L1834.5 847.0L1837.7 846.9L1840.8 846.8L1844.0 846.7L1847.1 846.6L1850.3 846.5L1853.5 846.4L1856.6 846.3L1859.8 846.2L1862.9 846.1L1866.1 846.0L1869.2 845.9L1872.4 845.8L1875.5 845.7L1878.7 845.6L1881.9 845.5L1885.0 845.4L1888.2 845.3L1891.3 845.2L1894.5 845.1L1897.6 845.0L1900.8 844.9L1904.0 844.8L1907.1 844.7L1910.3 844.6L1913.4 844.5L1916.6 844.4L1919.8 844.2L1922.9 844.1L1929.0 844.0" stroke="#00ff00"/>
<path d="M410.5 1146.9L415.4 1146.7L418.6 1146.4L421.7 1146.2L424.8 1146.0L428.0 1145.8L431.1 1145.6L434.3 1145.4L437.4 1145.2L440.6 1145.1L443.7 1144.9L446.9 1144.7L450.0 1144.6L453.2 1144.4L456.4 1144.3L459.5 1144.1L462.7 1144.0L465.9 1143.9L469.0 1143.7L472.2 1143.6L475.4 1143.5L478.6 1143.4L481.8 1143.3L485.0 1143.2L488.2 1143.1L491.3 1143.0L494.5 1142.9L497.7 1142.8L500.9 1142.7L504.1 1142.6L507.3 1142.5L510.5 1142.4L513.7 1142.4L517.0 1142.3L520.2 1142.2L523.4 1142.1L526.6 1142.0L529.8 1142.0L533.0 1141.9L536.3 1141.8L539.5 1141.7L542.7 1141.6L545.9 1141.5L549.2 1141.5L552.4 1141.4L555.6 1141.3L558.9 1141.2L562.1 1141.1L565.3 1141.0L568.6 1140.9L571.8 1140.8L575.1 1140.7L578.3 1140.6L581.5 1140.5L584.8 1140.3L588.0 1140.2L591.3 1140.1L594.5 1140.0L597.8 1139.8L601.0 1139.7L604.3 1139.5L607.6 1139.4L610.8 1139.2L614.1 1139.0L617.3 1138.9L620.6 1138.7L623.9 1138.5L627.1 1138.3L630.4 1138.1L633.6 1137.9L636.9 1137.7L640.1 1137.4L643.4 1137.2L646.7 1136.9L649.9 1136.7L653.2 1136.4L656.4 1136.1L659.6 1135.8L662.9 1135.5L666.1 1135.2L669.4 1134.8L672.6 1134.5L675.8 1134.1L679.1 1133.8L682.3 1133.4L685.5 1133.0L688.7 1132.5L691.9 1132.1L695.1 1131.7L698.3 1131.2L701.5 1130.7L704.7 1130.2L707.9 1129.7L711.1 1129.2L714.3 1128.6L717.5 1128.1L720.6 1127.5L723.8 1126.9L726.9 1126.3L730.1 1125.6L733.2 1125.0L736.3 1124.3L739.5 1123.6L742.6 1122.9L745.7 1122.2L748.8 1121.4L751.9 1120.6L755.0 1119.8L758.0 1119.0L761.1 1118.1L764.2 1117.3L767.2 1116.4L770.2 1115.5L773.3 1114.5L776.3 1113.6L779.3 1112.6L782.3 1111.6L785.3 1110.5L788.3 1109.4L791.2 1108.4L794.2 1107.2L797.1 1106.1L800.1 1104.9L803.0 1103.7L805.9 1102.5L808.8 1101.3L811.7 1100.0L814.6 1098.7L817.4 1097.4L820.3 1096.0L823.1 1094.7L826.0 1093.3L828.8 1091.9L831.6 1090.4L834.4 1089.0L837.2 1087.5L840.0 1086.0L842.8 1084.5L845.5 1083.0L848.3 1081.4L851.0 1079.8L853.7 1078.2L856.5 1076.6L859.2 1074.9L861.9 1073.3L864.6 1071.6L867.3 1069.9L869.9 1068.2L872.6 1066.4L875.2 1064.7L877.9 1062.9L880.5 1061.1L883.1 1059.3L885.8 1057.5L888.4 1055.6L891.0 1053.8L893.5 1051.9L896.1 1050.0L898.7 1048.1L901.3 1046.2L903.8 1044.2L906.3 1042.3L908.9 1040.3L911.4 1038.3L913.9 1036.3L916.4 1034.3L918.9 1032.3L921.4 1030.3L923.9 1028.3L926.4 1026.2L928.9 1024.2L931.3 1022.1L933.8 1020.0L936.3 1017.9L938.7 1015.8L941.2 1013.8L943.6 1011.7L946.1 1009.6L948.5 1007.4L951.0 1005.3L953.4 1003.2L955.9 1001.1L958.3 999.0L960.8 996.9L963.2 994.8L965.7 992.6L968.1 990.5L970.5 988.4L973.0 986.3L975.4 984.2L977.9 982.1L980.4 980.0L982.8 977.9L985.3 975.8L987.7 973.7L990.2 971.6L992.7 969.6L995.2 967.5L997.7 965.4L1000.1 963.4L1002.6 961.4L1005.2 959.3L1007.7 957.3L1010.2 955.3L1012.7 953.3L1015.2 951.4L1017.8 949.4L1020.3 947.4L1022.9 945.5L1025.4 943.5L1028.0 941.6L1030.6 939.7L1033.2 937.8L1035.8 935.9L1038.4 934.1L1041.0 932.2L1043.6 930.4L1046.2 928.5L1048.9 926.7L1051.5 924.9L1054.1 923.1L1056.8 921.4L1059.5 919.6L1062.2 917.9L1064.8 916.2L1067.5 914.5L1070.2 912.8L1073.0 911.1L1075.7 909.5L1078.4 907.8L1081.2 906.2L1083.9 904.6L1086.7 903.1L1089.4 901.5L1092.2 900.0L1095.0 898.4L1097.8 896.9L1100.6 895.4L1103.5 894.0L1106.3 892.5L1109.1 891.1L1112.0 889.6L1114.8 888.2L1117.7 886.8L1120.5 885.4L1123.4 884.1L1126.3 882.7L1129.2 881.4L1132.1 880.1L1135.0 878.8L1137.9 877.5L1140.8 876.2L1143.8 875.0L1146.7 873.8L1149.7 872.5L1152.6 871.3L1155.6 870.1L1158.5 868.9L1161.5 867.8L1164.5 866.6L1167.5 865.5L1170.5 864.4L1173.5 863.2L1176.5 862.2L1179.5 861.1L1182.5 860.0L1185.5 858.9L1188.5 857.9L1191.6 856.9L1194.6 855.8L1197.7 854.8L1200.7 853.8L1203.8 852.8L1206.8 851.9L1209.9 850.9L1213.0 850.0L1216.0 849.0L1219.1 848.1L1222.2 847.2L1225.3 846.3L1228.4 845.4L1231.5 844.5L1234.6 843.7L1237.7 842.8L1240.8 841.9L1243.9 841.1L1247.0 840.3L1250.1 839.5L1253.2 838.7L1256.3 837.9L1259.5 837.1L1262.6 836.3L1265.7 835.5L1268.9 834.8L1272.0 834.0L1275.1 833.3L1278.3 832.5L1281.4 831.8L1284.6 831.1L1287.7 830.4L1290.9 829.7L1294.0 829.0L1297.2 828.3L1300.3 827.7L1303.5 827.0L1306.7 826.3L1309.8 825.7L1313.0 825.0L1316.1 824.4L1319.3 823.8L1322.5 823.2L1325.6 822.5L1328.8 821.9L1332.0 821.3L1335.1 820.7L1338.3 820.1L1341.5 819.6L1344.6 819.0L1347.8 818.4L1351.0 817.8L1354.1 817.3L1357.3 816.7L1360.5 816.2L1363.6 815.7L1366.8 815.1L1370.0 814.6L1373.1 814.1L1376.3 813.6L1379.5 813.0L1382.7 812.5L1385.8 812.0L1389.0 811.6L1392.2 811.1L1395.4 810.6L1398.5 810.1L1401.7 809.6L1404.9 809.2L1408.1 808.7L1411.2 808.3L1414.4 807.8L1417.6 807.4L1420.8 806.9L1423.9 806.5L1427.1 806.1L1430.3 805.7L1433.5 805.2L1436.6 804.8L1439.8 804.4L1443.0 804.0L1446.2 803.6L1449.4 803.2L1452.5 802.8L1455.7 802.5L1458.9 802.1L1462.1 801.7L1465.3 801.3L1468.4 801.0L1471.6 800.6L1474.8 800.3L1478.0 799.9L1481.2 799.6L1484.4 799.2L1487.5 798.9L1490.7 798.6L1493.9 798.2L1497.1 797.9L1500.3 797.6L1503.5 797.3L1506.7 797.0L1509.8 796.7L1513.0 796.4L1516.2 796.1L1519.4 795.8L1522.6 795.5L1525.8 795.2L1529.0 794.9L1532.2 794.6L1535.3 794.3L1538.5 794.1L1541.7 793.8L1544.9 793.5L1548.1 793.3L1551.3 793.0L1554.5 792.8L1557.7 792.5L1560.9 792.3L1564.1 792.0L1567.2 791.8L1570.4 791.5L1573.6 791.3L1576.8 791.1L1580.0 790.8L1583.2 790.6L1586.4 790.4L1589.6 790.2L1592.8 790.0L1596.0 789.7L1599.2 789.5L1602.4 789.3L1605.6 789.1L1608.8 788.9L1612.0 788.7L1615.2 788.5L1618.3 788.3L1621.5 788.1L1624.7 787.9L1627.9 787.8L1631.1 787.6L1634.3 787.4L1637.5 787.2L1640.7 787.0L1643.9 786.8L1647.1 786.7L1650.3 786.5L1653.5 786.3L1656.7 786.2L1659.9 786.0L1663.1 785.8L1666.3 785.7L1669.5 785.5L1672.7 785.4L1675.9 785.2L1679.1 785.0L1682.3 784.9L1685.5 784.7L1688.7 784.6L1691.9 784.4L1695.1 784.3L1698.3 784.1L1701.5 784.0L1704.7 783.9L1707.9 783.7L1711.1 783.6L1714.3 783.4L1717.5 783.3L1720.7 783.2L1723.9 783.0L1727.1 782.9L1730.4 782.8L1733.6 782.6L1736.8 782.5L1740.0 782.4L1743.2 782.2L1746.4 782.1L1749.6 782.0L1752.8 781.9L1756.0 781.7L1759.2 781.6L1762.4 781.5L1765.6 781.4L1768.8 781.2L1772.0 781.1L1775.2 781.0L1778.4 780.9L1781.6 780.7L1784.8 780.6L1788.1 780.5L1791.3 780.4L1794.5 780.3L1797.7 780.1L1800.9 780.0L1804.1 779.9L1807.3 779.8L1810.5 779.6L1813.7 779.5L1816.9 779.4L1820.1 779.3L1823.3 779.2L1826.5 779.0L1829.8 778.9L1833.0 778.8L1836.2 778.7L1839.4 778.5L1842.6 778.4L1845.8 778.3L1849.0 778.2L1852.2 778.0L1855.4 777.9L1858.6 777.8L1861.9 777.7L1865.1 777.5L1868.3 777.4L1871.5 777.3L1874.7 777.1L1877.9 777.0L1881.1 776.9L1884.3 776.7L1887.5 776.6L1890.8 776.5L1894.0 776.3L1897.2 776.2L1900.4 776.0L1903.6 775.9L1906.8 775.7L1910.0 775.6L1913.2 775.5L1916.4 775.3L1919.7 775.2L1922.9 775.0L1929.0 774.9" stroke="#0000ff"/>
<path d="M410.5 1143.7L416.1 1143.4L420.0 1143.1L423.9 1142.8L427.7 1142.5L431.6 1142.2L435.5 1142.0L439.4 1141.8L443.3 1141.5L447.2 1141.3L451.1 1141.1L455.1 1140.9L459.0 1140.8L462.9 1140.6L466.9 1140.4L470.8 1140.3L474.8 1140.1L478.7 1140.0L482.7 1139.9L486.7 1139.7L490.6 1139.6L494.6 1139.5L498.6 1139.4L502.6 1139.3L506.6 1139.2L510.6 1139.0L514.6 1138.9L518.6 1138.8L522.6 1138.7L526.6 1138.6L530.6 1138.5L534.6 1138.3L538.6 1138.2L542.6 1138.1L546.6 1137.9L550.6 1137.8L554.6 1137.6L558.7 1137.5L562.7 1137.3L566.7 1137.1L570.7 1136.9L574.7 1136.7L578.8 1136.5L582.8 1136.3L586.8 1136.1L590.8 1135.8L594.8 1135.6L598.8 1135.3L602.9 1135.0L606.9 1134.7L610.9 1134.3L614.9 1134.0L618.9 1133.6L622.9 1133.2L626.9 1132.8L630.9 1132.4L634.9 1131.9L638.9 1131.5L642.9 1131.0L646.9 1130.5L650.8 1129.9L654.8 1129.4L658.8 1128.8L662.7 1128.1L666.7 1127.5L670.7 1126.8L674.6 1126.1L678.6 1125.4L682.5 1124.6L686.4 1123.8L690.4 1123.0L694.3 1122.1L698.2 1121.2L702.1 1120.3L706.0 1119.3L709.9 1118.3L713.8 1117.3L717.7 1116.2L721.5 1115.1L725.4 1114.0L729.2 1112.8L733.0 1111.6L736.9 1110.3L740.6 1109.0L744.4 1107.7L748.2 1106.3L751.9 1104.9L755.6 1103.4L759.3 1101.9L762.9 1100.4L766.6 1098.8L770.2 1097.1L773.7 1095.5L777.3 1093.7L780.8 1091.9L784.3 1090.1L787.7 1088.3L791.2 1086.3L794.5 1084.4L797.9 1082.4L801.2 1080.3L804.5 1078.2L807.7 1076.0L810.9 1073.8L814.0 1071.5L817.1 1069.2L820.2 1066.8L823.2 1064.4L826.2 1061.9L829.1 1059.4L832.0 1056.8L834.8 1054.1L837.6 1051.4L840.3 1048.7L843.0 1045.9L845.7 1043.1L848.3 1040.2L850.8 1037.2L853.3 1034.2L855.8 1031.2L858.3 1028.2L860.7 1025.1L863.0 1021.9L865.4 1018.7L867.7 1015.5L869.9 1012.3L872.2 1009.0L874.3 1005.7L876.5 1002.4L878.6 999.0L880.7 995.6L882.8 992.2L884.9 988.7L886.9 985.3L888.9 981.8L890.9 978.3L892.8 974.8L894.7 971.2L896.6 967.7L898.5 964.1L900.4 960.5L902.2 956.9L904.0 953.3L905.8 949.7L907.6 946.1L909.4 942.5L911.2 938.9L912.9 935.3L914.6 931.6L916.3 928.0L918.1 924.4L919.7 920.7L921.4 917.1L923.1 913.4L924.8 909.8L926.4 906.2L928.0 902.5L929.7 898.9L931.3 895.2L932.9 891.6L934.5 887.9L936.1 884.3L937.7 880.6L939.3 876.9L940.8 873.3L942.4 869.6L944.0 866.0L945.5 862.3L947.1 858.6L948.6 855.0L950.1 851.3L951.7 847.7L953.2 844.0L954.7 840.3L956.2 836.7L957.8 833.0L959.3 829.3L960.8 825.7L962.3 822.0L963.8 818.4L965.3 814.7L966.8 811.0L968.4 807.4L969.9 803.7L971.4 800.1L972.9 796.4L974.4 792.7L975.9 789.1L977.4 785.4L979.0 781.8L980.5 778.1L982.0 774.5L983.6 770.8L985.1 767.2L986.6 763.5L988.2 759.9L989.7 756.2L991.3 752.6L992.9 749.0L994.4 745.3L996.0 741.7L997.6 738.1L999.2 734.5L1000.8 730.8L1002.4 727.2L1004.0 723.6L1005.7 720.0L1007.3 716.4L1008.9 712.8L1010.6 709.1L1012.2 705.5L1013.9 701.9L1015.6 698.3L1017.2 694.7L1018.9 691.1L1020.6 687.5L1022.3 683.9L1023.9 680.3L1025.6 676.7L1027.3 673.1L1029.0 669.5L1030.7 665.9L1032.4 662.3L1034.1 658.7L1035.8 655.1L1037.5 651.5L1039.2 647.9L1040.8 644.3L1042.5 640.7L1044.2 637.0L1045.9 633.4L1047.6 629.8L1049.3 626.2L1051.0 622.6L1052.6 619.0L1054.3 615.3L1056.0 611.7L1057.7 608.1L1059.4 604.5L1061.1 600.9L1062.8 597.3L1064.5 593.7L1066.2 590.1L1067.9 586.5L1069.7 582.9L1071.4 579.3L1073.2 575.7L1074.9 572.1L1076.7 568.5L1078.4 564.9L1080.2 561.4L1082.0 557.8L1083.8 554.3L1085.6 550.7L1087.5 547.2L1089.3 543.6L1091.2 540.1L1093.0 536.6L1094.9 533.1L1096.8 529.6L1098.8 526.1L1100.7 522.7L1102.7 519.2L1104.6 515.7L1106.6 512.3L1108.6 508.9L1110.7 505.5L1112.7 502.1L1114.8 498.7L1116.9 495.3L1119.0 491.9L1121.2 488.6L1123.3 485.2L1125.5 481.9L1127.7 478.6L1130.0 475.3L1132.2 472.1L1134.5 468.8L1136.8 465.5L1139.1 462.3L1141.4 459.1L1143.8 455.9L1146.2 452.7L1148.6 449.5L1151.0 446.4L1153.4 443.3L1155.9 440.1L1158.4 437.0L1160.9 433.9L1163.4 430.9L1165.9 427.8L1168.5 424.8L1171.1 421.8L1173.7 418.8L1176.3 415.8L1179.0 412.8L1181.6 409.9L1184.3 406.9L1187.0 404.0L1189.7 401.1L1192.5 398.2L1195.2 395.4L1198.0 392.5L1200.8 389.7L1203.6 386.9L1206.4 384.1L1209.3 381.4L1212.2 378.6L1215.0 375.9L1218.0 373.2L1220.9 370.5L1223.8 367.9L1226.8 365.2L1229.8 362.6L1232.8 360.0L1235.8 357.4L1238.8 354.9L1241.8 352.3L1244.9 349.8L1248.0 347.3L1251.1 344.8L1254.2 342.4L1257.4 340.0L1260.5 337.5L1263.7 335.2L1266.9 332.8L1270.1 330.5L1273.3 328.1L1276.5 325.8L1279.8 323.6L1283.0 321.3L1286.3 319.1L1289.6 316.9L1292.9 314.7L1296.3 312.5L1299.6 310.4L1303.0 308.3L1306.3 306.2L1309.7 304.2L1313.1 302.1L1316.6 300.1L1320.0 298.1L1323.5 296.2L1326.9 294.2L1330.4 292.3L1333.9 290.4L1337.4 288.5L1340.9 286.7L1344.4 284.8L1348.0 283.0L1351.5 281.2L1355.1 279.4L1358.7 277.7L1362.2 276.0L1365.8 274.2L1369.4 272.5L1373.1 270.9L1376.7 269.2L1380.3 267.6L1384.0 266.0L1387.6 264.4L1391.3 262.8L1395.0 261.2L1398.6 259.7L1402.3 258.2L1406.0 256.7L1409.7 255.2L1413.4 253.7L1417.1 252.2L1420.9 250.8L1424.6 249.4L1428.3 248.0L1432.1 246.6L1435.8 245.2L1439.6 243.8L1443.3 242.5L1447.1 241.1L1450.9 239.8L1454.6 238.5L1458.4 237.2L1462.2 236.0L1466.0 234.7L1469.7 233.5L1473.5 232.2L1477.3 231.0L1481.1 229.8L1484.9 228.6L1488.7 227.4L1492.5 226.3L1496.3 225.1L1500.1 224.0L1503.9 222.8L1507.7 221.7L1511.6 220.6L1515.4 219.5L1519.2 218.4L1523.0 217.4L1526.9 216.3L1530.7 215.3L1534.5 214.2L1538.4 213.2L1542.2 212.2L1546.0 211.2L1549.9 210.2L1553.7 209.2L1557.6 208.2L1561.4 207.3L1565.3 206.3L1569.1 205.4L1573.0 204.5L1576.9 203.6L1580.7 202.7L1584.6 201.8L1588.5 200.9L1592.3 200.0L1596.2 199.1L1600.1 198.3L1604.0 197.4L1607.8 196.6L1611.7 195.7L1615.6 194.9L1619.5 194.1L1623.4 193.3L1627.3 192.5L1631.2 191.7L1635.1 190.9L1639.0 190.2L1642.8 189.4L1646.7 188.6L1650.6 187.9L1654.6 187.1L1658.5 186.4L1662.4 185.7L1666.3 185.0L1670.2 184.3L1674.1 183.5L1678.0 182.8L1681.9 182.2L1685.8 181.5L1689.7 180.8L1693.7 180.1L1697.6 179.4L1701.5 178.8L1705.4 178.1L1709.3 177.5L1713.3 176.8L1717.2 176.2L1721.1 175.6L1725.0 174.9L1729.0 174.3L1732.9 173.7L1736.8 173.1L1740.8 172.5L1744.7 171.9L1748.6 171.3L1752.6 170.7L1756.5 170.1L1760.4 169.5L1764.4 168.9L1768.3 168.3L1772.2 167.7L1776.2 167.2L1780.1 166.6L1784.1 166.0L1788.0 165.5L1791.9 164.9L1795.9 164.3L1799.8 163.8L1803.8 163.2L1807.7 162.7L1811.6 162.1L1815.6 161.6L1819.5 161.0L1823.5 160.5L1827.4 160.0L1831.4 159.4L1835.3 158.9L1839.2 158.4L1843.2 157.8L1847.1 157.3L1851.1 156.8L1855.0 156.2L1859.0 155.7L1862.9 155.2L1866.8 154.6L1870.8 154.1L1874.7 153.6L1878.7 153.1L1882.6 152.5L1886.6 152.0L1890.5 151.5L1894.4 151.0L1898.4 150.4L1902.3 149.9L1906.3 149.4L1910.2 148.8L1914.1 148.3L1918.1 147.8L1922.0 147.2L1929.0 146.7" stroke="#ff0000"/>
</g>
<rect x="438" y="99" width="330" height="532" fill="#fff"/>
<rect x="438" y="99.1" width="327" height="3" fill="#5a5a5a"/>
<rect x="441" y="627.8" width="324" height="3" fill="#5a5a5a"/>
<rect x="438" y="99.1" width="3" height="531.7" fill="#b4b4b4"/>
<rect x="441" y="102" width="3" height="526" fill="#a0a0a0"/>
<rect x="762" y="99.1" width="3" height="531.7" fill="#9a9a9a"/>
<rect x="765" y="102" width="3" height="528.8" fill="#c0c0c0"/>
<line x1="459" y1="143.7" x2="592.5" y2="143.7" stroke="#ff0000" stroke-width="5"/>
<line x1="459" y1="230.7" x2="592.5" y2="230.7" stroke="#0000ff" stroke-width="5"/>
<line x1="459" y1="318.8" x2="592.5" y2="318.8" stroke="#00ff00" stroke-width="5"/>
<line x1="459" y1="406.2" x2="592.5" y2="406.2" stroke="#ff00ff" stroke-width="5"/>
<line x1="459" y1="492.9" x2="592.5" y2="492.9" stroke="#008000" stroke-width="5"/>
<line x1="459" y1="580.1" x2="592.5" y2="580.1" stroke="#8000ff" stroke-width="5"/>
<text class="lg" x="603.5" y="162.9">TiO<tspan class="lgs" dy="19.6">2</tspan></text>
<text class="lg" x="603.5" y="249.9">La<tspan class="lgs" dy="19.6">2</tspan><tspan dy="-19.6">O</tspan><tspan class="lgs" dy="19.6">3</tspan></text>
<text class="lg" x="603.5" y="338.0">HfO<tspan class="lgs" dy="19.6">2</tspan></text>
<text class="lg" x="603.5" y="425.4">Al<tspan class="lgs" dy="19.6">2</tspan><tspan dy="-19.6">O</tspan><tspan class="lgs" dy="19.6">3</tspan></text>
<text class="lg" x="603.5" y="512.1">Si<tspan class="lgs" dy="19.6">3</tspan><tspan dy="-19.6">N</tspan><tspan class="lgs" dy="19.6">4</tspan></text>
<text class="lg" x="603.5" y="599.3">SiO<tspan class="lgs" dy="19.6">2</tspan></text>
<text class="yl" transform="translate(330.9 103.0) scale(1 1.055)" text-anchor="end">1.8x10</text>
<text class="ys" transform="translate(331.6 72.3) scale(1 1.050)">-16</text>
<text class="yl" transform="translate(330.9 228.3) scale(1 1.055)" text-anchor="end">1.6x10</text>
<text class="ys" transform="translate(331.6 197.6) scale(1 1.050)">-16</text>
<text class="yl" transform="translate(330.9 353.7) scale(1 1.055)" text-anchor="end">1.4x10</text>
<text class="ys" transform="translate(331.6 323.0) scale(1 1.050)">-16</text>
<text class="yl" transform="translate(330.9 479.0) scale(1 1.055)" text-anchor="end">1.2x10</text>
<text class="ys" transform="translate(331.6 448.3) scale(1 1.050)">-16</text>
<text class="yl" transform="translate(330.9 604.3) scale(1 1.055)" text-anchor="end">1.0x10</text>
<text class="ys" transform="translate(331.6 573.6) scale(1 1.050)">-16</text>
<text class="yl" transform="translate(330.9 729.7) scale(1 1.055)" text-anchor="end">8.0x10</text>
<text class="ys" transform="translate(331.6 699.0) scale(1 1.050)">-17</text>
<text class="yl" transform="translate(330.9 855.0) scale(1 1.055)" text-anchor="end">6.0x10</text>
<text class="ys" transform="translate(331.6 824.3) scale(1 1.050)">-17</text>
<text class="yl" transform="translate(330.9 980.3) scale(1 1.055)" text-anchor="end">4.0x10</text>
<text class="ys" transform="translate(331.6 949.6) scale(1 1.050)">-17</text>
<text class="yl" transform="translate(330.9 1105.7) scale(1 1.055)" text-anchor="end">2.0x10</text>
<text class="ys" transform="translate(331.6 1075.0) scale(1 1.050)">-17</text>
<text class="yl" transform="translate(387.9 1225.2) scale(1 1.050)" text-anchor="end">0.0</text>
<text class="xl" transform="translate(412.0 1274.2) scale(1 1.050)" text-anchor="middle">0.0</text>
<text class="xl" transform="translate(790.6 1274.2) scale(1 1.050)" text-anchor="middle">0.2</text>
<text class="xl" transform="translate(1169.2 1274.2) scale(1 1.050)" text-anchor="middle">0.4</text>
<text class="xl" transform="translate(1547.9 1274.2) scale(1 1.050)" text-anchor="middle">0.6</text>
<text class="xl" transform="translate(1926.5 1274.2) scale(1 1.050)" text-anchor="middle">0.8</text>
<text class="xt" transform="translate(761.4 1375.0) scale(1 1.030)">Gate–Source Voltage, V</text>
<text class="xs" x="1435.5" y="1399.0">gs</text>
<text class="xt" x="1493.2" y="1375.0">(V)</text>
<text class="xt" transform="translate(92.5,1057) rotate(-90) scale(1,1.045)">Gate Capacitance, C</text>
<text class="xs" transform="translate(115.5,476.2) rotate(-90) scale(1,1.04)">gg</text>
<text class="xt" transform="translate(92.5,415.7) rotate(-90) scale(1,1.045)">(F/μm)</text>
</svg>
</body></html>
